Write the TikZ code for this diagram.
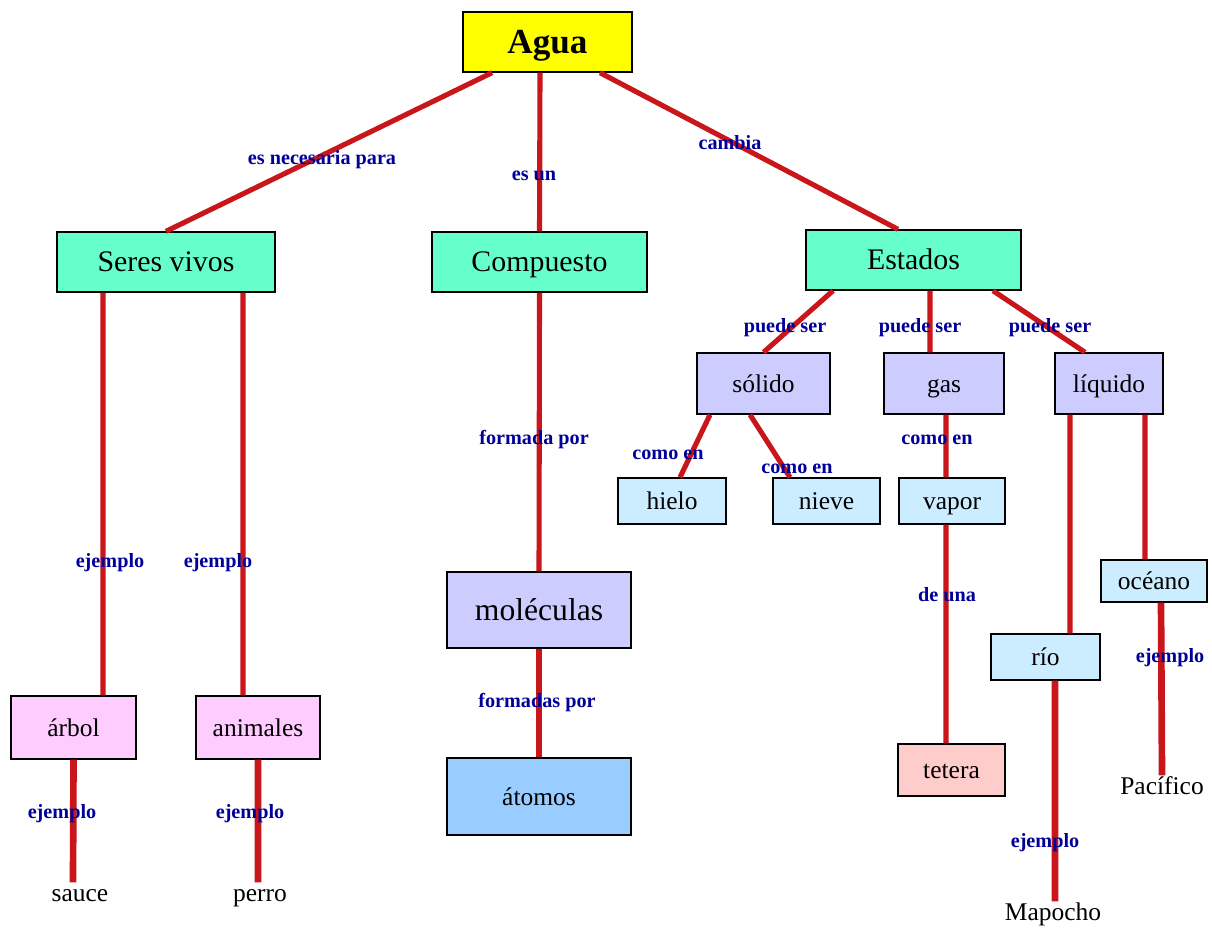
\documentclass[tikz,border=0pt]{standalone}
\usepackage{fontspec}
\setmainfont{Liberation Serif}
\definecolor{linkred}{HTML}{C8161B}
\definecolor{lblblue}{HTML}{000099}
\definecolor{topfill}{HTML}{FFFF00}
\definecolor{aquafill}{HTML}{66FFCC}
\definecolor{lavfill}{HTML}{CCCCFF}
\definecolor{skyfill}{HTML}{CCECFF}
\definecolor{bluefill}{HTML}{99CCFF}
\definecolor{pinkfill}{HTML}{FFCCFF}
\definecolor{rosefill}{HTML}{FFCCCC}
\tikzset{
  concept/.style={draw=black,line width=0.8pt,inner sep=0pt,
    text height=9.8pt,text depth=0pt,
    font=\fontsize{14.5}{16}\selectfont},
  bigconcept/.style={concept,text height=11.2pt,font=\fontsize{17}{19}\selectfont},
  link/.style={linkred,line width=2.9pt},
  thicklink/.style={linkred,line width=3.8pt},
  linklabel/.style={text=lblblue,inner sep=0pt,
    font=\fontsize{11.5}{13}\selectfont\bfseries},
  leaf/.style={inner sep=1pt,text height=9.8pt,text depth=0pt,
    font=\fontsize{14.5}{16}\selectfont}
}

\begin{document}
\begin{tikzpicture}[x=0.02cm,y=-0.02cm,line cap=butt]
  \useasboundingbox (0,0) rectangle (1212,927);

  % concepts
  \node[concept,fill=topfill,minimum width=3.38cm,minimum height=1.2cm,text height=13pt,
    font=\fontsize{20}{22}\selectfont\bfseries] (agua) at (547.5,42) {Agua};
  \node[bigconcept,fill=aquafill,minimum width=4.36cm,minimum height=1.2cm] (seres) at (166,262) {Seres vivos};
  \node[bigconcept,fill=aquafill,minimum width=4.3cm,minimum height=1.2cm] (compuesto) at (539.5,262) {Compuesto};
  \node[bigconcept,fill=aquafill,minimum width=4.3cm,minimum height=1.2cm] (estados) at (913.5,260) {Estados};
  \node[concept,fill=lavfill,minimum width=2.66cm,minimum height=1.22cm] (solido) at (763.5,383.5) {sólido};
  \node[concept,fill=lavfill,minimum width=2.4cm,minimum height=1.22cm] (gas) at (944,383.5) {gas};
  \node[concept,fill=lavfill,minimum width=2.16cm,minimum height=1.22cm] (liquido) at (1109,383.5) {líquido};
  \node[concept,fill=skyfill,minimum width=2.16cm,minimum height=0.92cm] (hielo) at (672,501) {hielo};
  \node[concept,fill=skyfill,minimum width=2.14cm,minimum height=0.92cm] (nieve) at (826.5,501) {nieve};
  \node[concept,fill=skyfill,minimum width=2.12cm,minimum height=0.92cm] (vapor) at (952,501) {vapor};
  \node[concept,fill=lavfill,minimum width=3.68cm,minimum height=1.52cm,text height=12pt,
    font=\fontsize{18}{20}\selectfont] (moleculas) at (539,610) {moléculas};
  \node[concept,fill=bluefill,minimum width=3.68cm,minimum height=1.54cm] (atomos) at (539,796.5) {átomos};
  \node[concept,fill=pinkfill,minimum width=2.5cm,minimum height=1.26cm] (arbol) at (73.5,727.5) {árbol};
  \node[concept,fill=pinkfill,minimum width=2.48cm,minimum height=1.26cm] (animales) at (258,727.5) {animales};
  \node[concept,fill=skyfill,minimum width=2.12cm,minimum height=0.84cm] (oceano) at (1154,581) {océano};
  \node[concept,fill=skyfill,minimum width=2.18cm,minimum height=0.92cm] (rio) at (1045.5,657) {río};
  \node[concept,fill=rosefill,minimum width=2.14cm,minimum height=1.04cm] (tetera) at (951.5,770) {tetera};
  \node[leaf] (sauce) at (80,893) {sauce};
  \node[leaf] (perro) at (260,893) {perro};
  \node[leaf] (mapocho) at (1053,912) {Mapocho};
  \node[leaf] (pacifico) at (1162,786) {Pacífico};

  % links
  \draw[link] ([xshift=-1.11cm]agua.south) -- (seres.north);
  \draw[link] ([xshift=-0.15cm]agua.south) -- (compuesto.north);
  \draw[link] ([xshift=1.05cm]agua.south) -- ([xshift=-0.31cm]estados.north);
  \draw[link] ([xshift=-1.26cm]seres.south) -- ([xshift=0.59cm]arbol.north);
  \draw[link] ([xshift=1.54cm]seres.south) -- ([xshift=-0.3cm]animales.north);
  \draw[thicklink] (arbol.south) -- ([xshift=-0.14cm]sauce.north);
  \draw[thicklink] (animales.south) -- ([xshift=-0.04cm]perro.north);
  \draw[link] (compuesto.south) -- (moleculas.north);
  \draw[link] (moleculas.south) -- (atomos.north);
  \draw[link] ([xshift=-1.61cm]estados.south) -- (solido.north);
  \draw[link] ([xshift=0.33cm]estados.south) -- ([xshift=-0.28cm]gas.north);
  \draw[link] ([xshift=1.59cm]estados.south) -- ([xshift=-0.48cm]liquido.north);
  \draw[link] ([xshift=-1.07cm]solido.south) -- ([xshift=0.16cm]hielo.north);
  \draw[link] ([xshift=-0.27cm]solido.south) -- ([xshift=-0.73cm]nieve.north);
  \draw[link] ([xshift=0.04cm]gas.south) -- ([xshift=-0.12cm]vapor.north);
  \draw[link] ([xshift=-0.12cm]vapor.south) -- ([xshift=-0.11cm]tetera.north);
  \draw[link] ([xshift=-0.78cm]liquido.south) -- ([xshift=0.49cm]rio.north);
  \draw[link] ([xshift=0.72cm]liquido.south) -- ([xshift=-0.18cm]oceano.north);
  \draw[thicklink] ([xshift=0.19cm]rio.south) -- ([xshift=0.04cm]mapocho.north);
  \draw[thicklink] ([xshift=0.14cm]oceano.south) -- (pacifico.north);

  % link words
  \node[linklabel] (l1) at (322,160) {es necesaria para};
  \node[linklabel] (l2) at (534,176) {es un};
  \node[linklabel] (l3) at (730,143) {cambia};
  \node[linklabel] (l4) at (110,563) {ejemplo};
  \node[linklabel] (l5) at (218,563) {ejemplo};
  \node[linklabel] (l6) at (62,814) {ejemplo};
  \node[linklabel] (l7) at (250,814) {ejemplo};
  \node[linklabel] (l8) at (534,440) {formada por};
  \node[linklabel] (l9) at (537,703) {formadas por};
  \node[linklabel] (l10) at (785,328) {puede ser};
  \node[linklabel] (l11) at (920,328) {puede ser};
  \node[linklabel] (l12) at (1050,328) {puede ser};
  \node[linklabel] (l13) at (668,455) {como en};
  \node[linklabel] (l14) at (797,469) {como en};
  \node[linklabel] (l15) at (937,440) {como en};
  \node[linklabel] (l16) at (947,595) {de una};
  \node[linklabel] (l17) at (1045,843) {ejemplo};
  \node[linklabel] (l18) at (1170,658) {ejemplo};
\end{tikzpicture}
\end{document}
